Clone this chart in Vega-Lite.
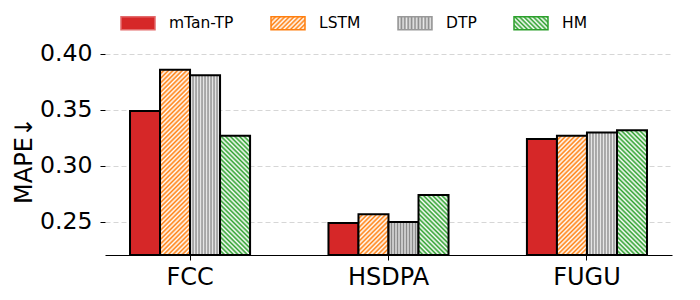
{
  "$schema": "https://vega.github.io/schema/vega-lite/v6.json",
  "width": 567,
  "height": 215,
  "autosize": {"type": "none"},
  "padding": {"left": 105, "top": 40, "right": 28, "bottom": 45},
  "params": [
    {"name": "stO", "value": [
      {"offset":0,"color":"#ff7f0e"},{"offset":0.01,"color":"#fff"},{"offset":0.02,"color":"#ff7f0e"},{"offset":0.03,"color":"#fff"},{"offset":0.04,"color":"#ff7f0e"},{"offset":0.05,"color":"#fff"},{"offset":0.06,"color":"#ff7f0e"},{"offset":0.07,"color":"#fff"},{"offset":0.08,"color":"#ff7f0e"},{"offset":0.09,"color":"#fff"},
      {"offset":0.1,"color":"#ff7f0e"},{"offset":0.11,"color":"#fff"},{"offset":0.12,"color":"#ff7f0e"},{"offset":0.13,"color":"#fff"},{"offset":0.14,"color":"#ff7f0e"},{"offset":0.15,"color":"#fff"},{"offset":0.16,"color":"#ff7f0e"},{"offset":0.17,"color":"#fff"},{"offset":0.18,"color":"#ff7f0e"},{"offset":0.19,"color":"#fff"},
      {"offset":0.2,"color":"#ff7f0e"},{"offset":0.21,"color":"#fff"},{"offset":0.22,"color":"#ff7f0e"},{"offset":0.23,"color":"#fff"},{"offset":0.24,"color":"#ff7f0e"},{"offset":0.25,"color":"#fff"},{"offset":0.26,"color":"#ff7f0e"},{"offset":0.27,"color":"#fff"},{"offset":0.28,"color":"#ff7f0e"},{"offset":0.29,"color":"#fff"},
      {"offset":0.3,"color":"#ff7f0e"},{"offset":0.31,"color":"#fff"},{"offset":0.32,"color":"#ff7f0e"},{"offset":0.33,"color":"#fff"},{"offset":0.34,"color":"#ff7f0e"},{"offset":0.35,"color":"#fff"},{"offset":0.36,"color":"#ff7f0e"},{"offset":0.37,"color":"#fff"},{"offset":0.38,"color":"#ff7f0e"},{"offset":0.39,"color":"#fff"},
      {"offset":0.4,"color":"#ff7f0e"},{"offset":0.41,"color":"#fff"},{"offset":0.42,"color":"#ff7f0e"},{"offset":0.43,"color":"#fff"},{"offset":0.44,"color":"#ff7f0e"},{"offset":0.45,"color":"#fff"},{"offset":0.46,"color":"#ff7f0e"},{"offset":0.47,"color":"#fff"},{"offset":0.48,"color":"#ff7f0e"},{"offset":0.49,"color":"#fff"},
      {"offset":0.5,"color":"#ff7f0e"},{"offset":0.51,"color":"#fff"},{"offset":0.52,"color":"#ff7f0e"},{"offset":0.53,"color":"#fff"},{"offset":0.54,"color":"#ff7f0e"},{"offset":0.55,"color":"#fff"},{"offset":0.56,"color":"#ff7f0e"},{"offset":0.57,"color":"#fff"},{"offset":0.58,"color":"#ff7f0e"},{"offset":0.59,"color":"#fff"},
      {"offset":0.6,"color":"#ff7f0e"},{"offset":0.61,"color":"#fff"},{"offset":0.62,"color":"#ff7f0e"},{"offset":0.63,"color":"#fff"},{"offset":0.64,"color":"#ff7f0e"},{"offset":0.65,"color":"#fff"},{"offset":0.66,"color":"#ff7f0e"},{"offset":0.67,"color":"#fff"},{"offset":0.68,"color":"#ff7f0e"},{"offset":0.69,"color":"#fff"},
      {"offset":0.7,"color":"#ff7f0e"},{"offset":0.71,"color":"#fff"},{"offset":0.72,"color":"#ff7f0e"},{"offset":0.73,"color":"#fff"},{"offset":0.74,"color":"#ff7f0e"},{"offset":0.75,"color":"#fff"},{"offset":0.76,"color":"#ff7f0e"},{"offset":0.77,"color":"#fff"},{"offset":0.78,"color":"#ff7f0e"},{"offset":0.79,"color":"#fff"},
      {"offset":0.8,"color":"#ff7f0e"},{"offset":0.81,"color":"#fff"},{"offset":0.82,"color":"#ff7f0e"},{"offset":0.83,"color":"#fff"},{"offset":0.84,"color":"#ff7f0e"},{"offset":0.85,"color":"#fff"},{"offset":0.86,"color":"#ff7f0e"},{"offset":0.87,"color":"#fff"},{"offset":0.88,"color":"#ff7f0e"},{"offset":0.89,"color":"#fff"},
      {"offset":0.9,"color":"#ff7f0e"},{"offset":0.91,"color":"#fff"},{"offset":0.92,"color":"#ff7f0e"},{"offset":0.93,"color":"#fff"},{"offset":0.94,"color":"#ff7f0e"},{"offset":0.95,"color":"#fff"},{"offset":0.96,"color":"#ff7f0e"},{"offset":0.97,"color":"#fff"},{"offset":0.98,"color":"#ff7f0e"},{"offset":0.99,"color":"#fff"},
      {"offset":1,"color":"#ff7f0e"}
    ]},
    {"name": "stG", "value": [
      {"offset":0,"color":"#2ca02c"},{"offset":0.01,"color":"#fff"},{"offset":0.02,"color":"#2ca02c"},{"offset":0.03,"color":"#fff"},{"offset":0.04,"color":"#2ca02c"},{"offset":0.05,"color":"#fff"},{"offset":0.06,"color":"#2ca02c"},{"offset":0.07,"color":"#fff"},{"offset":0.08,"color":"#2ca02c"},{"offset":0.09,"color":"#fff"},
      {"offset":0.1,"color":"#2ca02c"},{"offset":0.11,"color":"#fff"},{"offset":0.12,"color":"#2ca02c"},{"offset":0.13,"color":"#fff"},{"offset":0.14,"color":"#2ca02c"},{"offset":0.15,"color":"#fff"},{"offset":0.16,"color":"#2ca02c"},{"offset":0.17,"color":"#fff"},{"offset":0.18,"color":"#2ca02c"},{"offset":0.19,"color":"#fff"},
      {"offset":0.2,"color":"#2ca02c"},{"offset":0.21,"color":"#fff"},{"offset":0.22,"color":"#2ca02c"},{"offset":0.23,"color":"#fff"},{"offset":0.24,"color":"#2ca02c"},{"offset":0.25,"color":"#fff"},{"offset":0.26,"color":"#2ca02c"},{"offset":0.27,"color":"#fff"},{"offset":0.28,"color":"#2ca02c"},{"offset":0.29,"color":"#fff"},
      {"offset":0.3,"color":"#2ca02c"},{"offset":0.31,"color":"#fff"},{"offset":0.32,"color":"#2ca02c"},{"offset":0.33,"color":"#fff"},{"offset":0.34,"color":"#2ca02c"},{"offset":0.35,"color":"#fff"},{"offset":0.36,"color":"#2ca02c"},{"offset":0.37,"color":"#fff"},{"offset":0.38,"color":"#2ca02c"},{"offset":0.39,"color":"#fff"},
      {"offset":0.4,"color":"#2ca02c"},{"offset":0.41,"color":"#fff"},{"offset":0.42,"color":"#2ca02c"},{"offset":0.43,"color":"#fff"},{"offset":0.44,"color":"#2ca02c"},{"offset":0.45,"color":"#fff"},{"offset":0.46,"color":"#2ca02c"},{"offset":0.47,"color":"#fff"},{"offset":0.48,"color":"#2ca02c"},{"offset":0.49,"color":"#fff"},
      {"offset":0.5,"color":"#2ca02c"},{"offset":0.51,"color":"#fff"},{"offset":0.52,"color":"#2ca02c"},{"offset":0.53,"color":"#fff"},{"offset":0.54,"color":"#2ca02c"},{"offset":0.55,"color":"#fff"},{"offset":0.56,"color":"#2ca02c"},{"offset":0.57,"color":"#fff"},{"offset":0.58,"color":"#2ca02c"},{"offset":0.59,"color":"#fff"},
      {"offset":0.6,"color":"#2ca02c"},{"offset":0.61,"color":"#fff"},{"offset":0.62,"color":"#2ca02c"},{"offset":0.63,"color":"#fff"},{"offset":0.64,"color":"#2ca02c"},{"offset":0.65,"color":"#fff"},{"offset":0.66,"color":"#2ca02c"},{"offset":0.67,"color":"#fff"},{"offset":0.68,"color":"#2ca02c"},{"offset":0.69,"color":"#fff"},
      {"offset":0.7,"color":"#2ca02c"},{"offset":0.71,"color":"#fff"},{"offset":0.72,"color":"#2ca02c"},{"offset":0.73,"color":"#fff"},{"offset":0.74,"color":"#2ca02c"},{"offset":0.75,"color":"#fff"},{"offset":0.76,"color":"#2ca02c"},{"offset":0.77,"color":"#fff"},{"offset":0.78,"color":"#2ca02c"},{"offset":0.79,"color":"#fff"},
      {"offset":0.8,"color":"#2ca02c"},{"offset":0.81,"color":"#fff"},{"offset":0.82,"color":"#2ca02c"},{"offset":0.83,"color":"#fff"},{"offset":0.84,"color":"#2ca02c"},{"offset":0.85,"color":"#fff"},{"offset":0.86,"color":"#2ca02c"},{"offset":0.87,"color":"#fff"},{"offset":0.88,"color":"#2ca02c"},{"offset":0.89,"color":"#fff"},
      {"offset":0.9,"color":"#2ca02c"},{"offset":0.91,"color":"#fff"},{"offset":0.92,"color":"#2ca02c"},{"offset":0.93,"color":"#fff"},{"offset":0.94,"color":"#2ca02c"},{"offset":0.95,"color":"#fff"},{"offset":0.96,"color":"#2ca02c"},{"offset":0.97,"color":"#fff"},{"offset":0.98,"color":"#2ca02c"},{"offset":0.99,"color":"#fff"},
      {"offset":1,"color":"#2ca02c"}
    ]},
    {"name": "stD", "value": [
      {"offset":0,"color":"#8a8a8a"},{"offset":0.05,"color":"#e8e8e8"},{"offset":0.1,"color":"#8a8a8a"},{"offset":0.15,"color":"#e8e8e8"},{"offset":0.2,"color":"#8a8a8a"},{"offset":0.25,"color":"#e8e8e8"},{"offset":0.3,"color":"#8a8a8a"},{"offset":0.35,"color":"#e8e8e8"},{"offset":0.4,"color":"#8a8a8a"},{"offset":0.45,"color":"#e8e8e8"},
      {"offset":0.5,"color":"#8a8a8a"},{"offset":0.55,"color":"#e8e8e8"},{"offset":0.6,"color":"#8a8a8a"},{"offset":0.65,"color":"#e8e8e8"},{"offset":0.7,"color":"#8a8a8a"},{"offset":0.75,"color":"#e8e8e8"},{"offset":0.8,"color":"#8a8a8a"},{"offset":0.85,"color":"#e8e8e8"},{"offset":0.9,"color":"#8a8a8a"},{"offset":0.95,"color":"#e8e8e8"},
      {"offset":1,"color":"#8a8a8a"}
    ]}
  ],
  "data": {"values": [
    {"dataset": "FCC", "model": "mTan-TP", "MAPE": 0.349},
    {"dataset": "FCC", "model": "LSTM", "MAPE": 0.386},
    {"dataset": "FCC", "model": "DTP", "MAPE": 0.381},
    {"dataset": "FCC", "model": "HM", "MAPE": 0.327},
    {"dataset": "HSDPA", "model": "mTan-TP", "MAPE": 0.249},
    {"dataset": "HSDPA", "model": "LSTM", "MAPE": 0.257},
    {"dataset": "HSDPA", "model": "DTP", "MAPE": 0.250},
    {"dataset": "HSDPA", "model": "HM", "MAPE": 0.274},
    {"dataset": "FUGU", "model": "mTan-TP", "MAPE": 0.324},
    {"dataset": "FUGU", "model": "LSTM", "MAPE": 0.327},
    {"dataset": "FUGU", "model": "DTP", "MAPE": 0.330},
    {"dataset": "FUGU", "model": "HM", "MAPE": 0.332}
  ]},
  "mark": {
    "type": "bar",
    "fill": {"expr": "(datum.model||datum.value)=='LSTM'?{gradient:'linear',x1:0,y1:0,x2:datum.model?6900/(900+pow((datum.MAPE-0.2205)*1120,2)):5.902,y2:datum.model?230*(datum.MAPE-0.2205)*1120/(900+pow((datum.MAPE-0.2205)*1120,2)):2.257,stops:stO}:(datum.model||datum.value)=='HM'?{gradient:'linear',x1:0,y1:1,x2:datum.model?6900/(900+pow((datum.MAPE-0.2205)*1120,2)):5.902,y2:datum.model?1-230*(datum.MAPE-0.2205)*1120/(900+pow((datum.MAPE-0.2205)*1120,2)):-1.257,stops:stG}:(datum.model||datum.value)=='DTP'?{gradient:'linear',x1:0,y1:0,x2:1,y2:0,stops:stD}:'#d62728'"},
    "stroke": {"expr": "datum.model?'black':datum.value=='LSTM'?'#ff7f0e':datum.value=='HM'?'#2ca02c':datum.value=='DTP'?'#999999':'#e36a6b'"},
    "strokeWidth": {"expr": "datum.model?2:1"}
  },
  "encoding": {
    "x": {
      "field": "dataset", "type": "nominal", "sort": ["FCC", "HSDPA", "FUGU"],
      "scale": {"paddingInner": 0.395, "paddingOuter": 0.126},
      "axis": {"title": null, "labelAngle": 0, "labelFontSize": 24, "labelColor": "black", "labelPadding": 5, "tickSize": 5, "tickColor": "black", "domainColor": "black", "domainWidth": 1, "grid": false}
    },
    "xOffset": {
      "field": "model", "type": "nominal", "sort": ["mTan-TP", "LSTM", "DTP", "HM"],
      "scale": {"paddingInner": 0, "paddingOuter": 0}
    },
    "y": {
      "field": "MAPE", "type": "quantitative",
      "scale": {"domain": [0.2205, 0.4125], "zero": false, "nice": false, "clamp": true},
      "axis": {"title": "MAPE↓", "titleY": 120, "values": [0.25, 0.3, 0.35, 0.4], "format": ".2f", "domain": false, "tickSize": 5, "tickColor": "black", "labelFontSize": 23.6, "labelColor": "black", "labelPadding": 8, "titleFontSize": 24, "titleFontWeight": "normal", "titleColor": "black", "titlePadding": 3, "grid": true, "gridColor": "#cccccc", "gridDash": [5, 3], "gridWidth": 0.8}
    },
    "opacity": {
      "field": "model", "type": "nominal", "sort": ["mTan-TP", "LSTM", "DTP", "HM"],
      "scale": {"domain": ["mTan-TP", "LSTM", "DTP", "HM"], "range": [1, 1, 1, 1]},
      "legend": {
        "title": null, "orient": "none", "legendX": 15, "legendY": -35, "direction": "horizontal",
        "symbolType": "M-1,-0.382H1V0.382H-1Z", "symbolSize": 1156,
        "labelFontSize": 15.5, "labelColor": "black", "labelOffset": 13, "columnPadding": 34, "padding": 0
      }
    }
  },
  "config": {
    "font": "DejaVu Sans",
    "view": {"stroke": null},
    "axis": {"labelFont": "DejaVu Sans", "titleFont": "DejaVu Sans"},
    "legend": {"labelFont": "DejaVu Sans"}
  }
}
